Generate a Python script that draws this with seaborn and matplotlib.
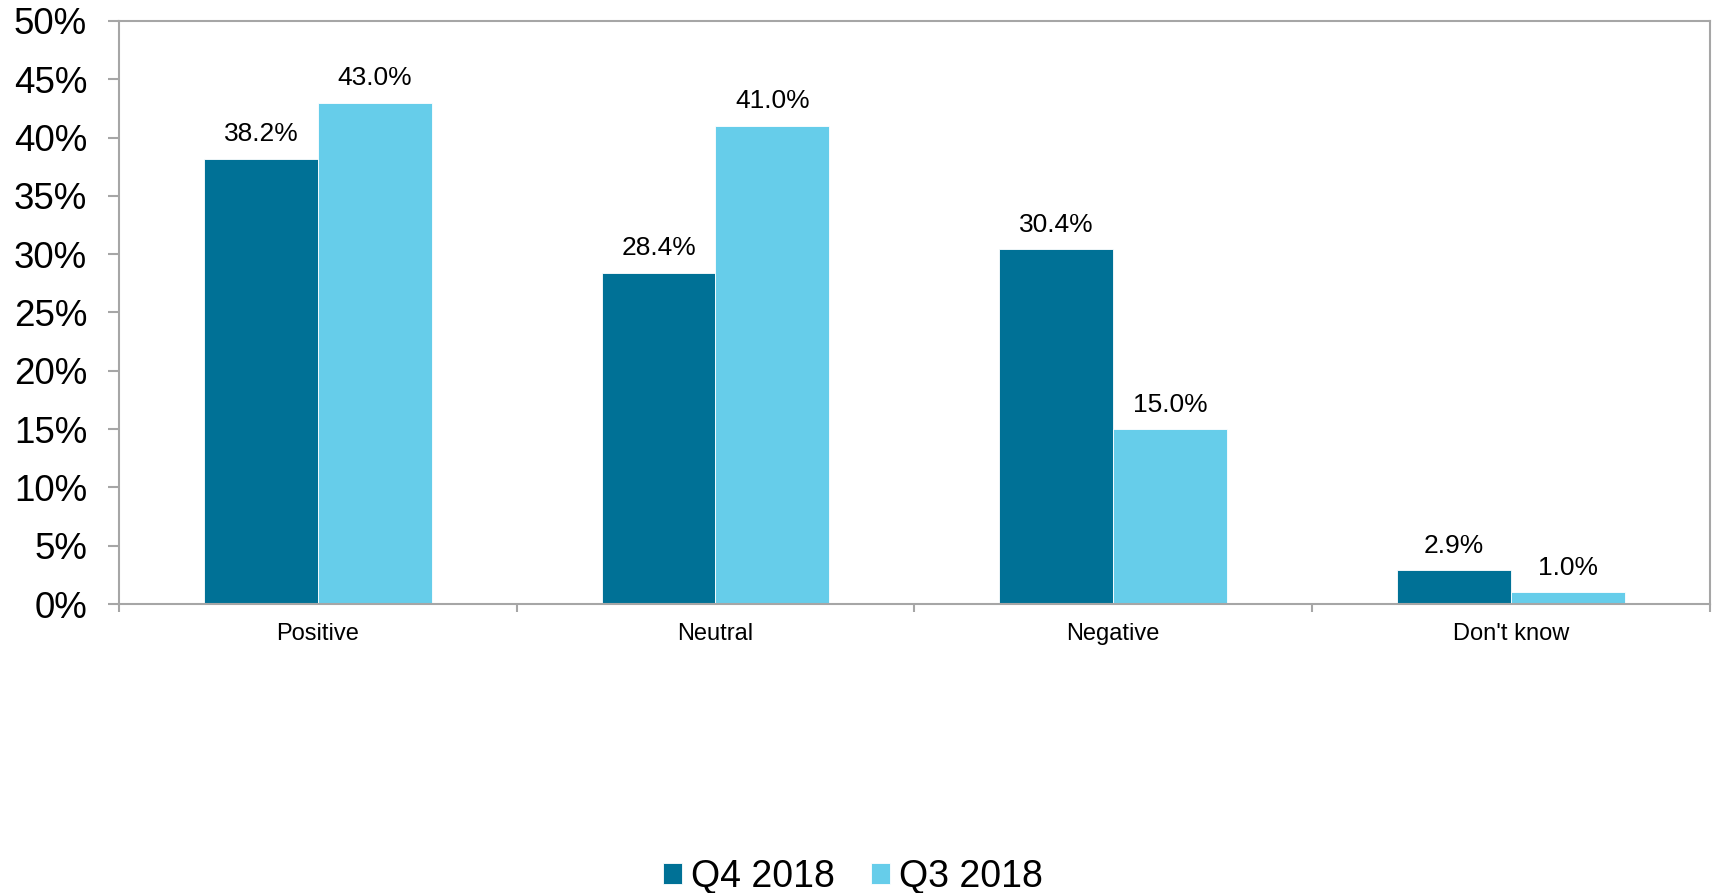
import matplotlib
matplotlib.use("Agg")
import matplotlib.pyplot as plt
from matplotlib.ticker import FixedLocator, PercentFormatter
import pandas as pd
import seaborn as sns

categories = ["Positive", "Neutral", "Negative", "Don't know"]
series_names = ["Q4 2018", "Q3 2018"]
q4_2018 = [38.2, 28.4, 30.4, 2.9]
q3_2018 = [43.0, 41.0, 15.0, 1.0]
palette = ["#007196", "#66CDEA"]

df = pd.DataFrame({
    "category": categories * 2,
    "quarter": [series_names[0]] * 4 + [series_names[1]] * 4,
    "value": q4_2018 + q3_2018,
})

sns.set_theme(style="white")
plt.rcParams["font.family"] = ["Liberation Sans", "DejaVu Sans"]
plt.rcParams["text.color"] = "black"
plt.rcParams["xtick.color"] = "black"
plt.rcParams["ytick.color"] = "black"

fig = plt.figure(figsize=(17.13, 8.93), dpi=100)
ax = fig.add_axes([0.0695, 0.3236, 0.9285, 0.653])

sns.barplot(data=df, x="category", y="value", hue="quarter", order=categories,
            hue_order=series_names, palette=palette, width=0.573, gap=0,
            saturation=1, edgecolor="white", linewidth=0.6, ax=ax, legend=True)

for cont in ax.containers:
    ax.bar_label(cont, fmt="%.1f%%", padding=9, fontsize=19, color="black")

ax.set_ylim(0, 50)
ax.set_xlim(-0.5, len(categories) - 0.5)
ax.set_yticks(range(0, 51, 5))
ax.yaxis.set_major_formatter(PercentFormatter(decimals=0))
ax.tick_params(axis="y", which="major", direction="out", length=8, width=1.5,
               color="#A6A6A6", labelcolor="black", labelsize=26.5, pad=15,
               left=True)
ax.tick_params(axis="x", which="major", length=0, labelsize=17, pad=14,
               labelcolor="black")
ax.xaxis.set_minor_locator(FixedLocator([i - 0.5 for i in range(len(categories) + 1)]))
ax.tick_params(axis="x", which="minor", direction="out", length=6, width=1.5,
               color="#A6A6A6", bottom=True)
ax.set_xlabel("")
ax.set_ylabel("")

for s in ax.spines.values():
    s.set_visible(True)
    s.set_color("#A6A6A6")
    s.set_linewidth(1.5)

handles, labels = ax.get_legend_handles_labels()
ax.legend_.remove()
fig.legend(handles, labels, loc="center", bbox_to_anchor=(0.498, 0.018),
           ncol=2, frameon=False, fontsize=27, handlelength=0.5,
           handleheight=0.5, handletextpad=0.25, columnspacing=0.95,
           labelcolor="black")

fig.savefig("out.png", dpi=100, facecolor="white")
